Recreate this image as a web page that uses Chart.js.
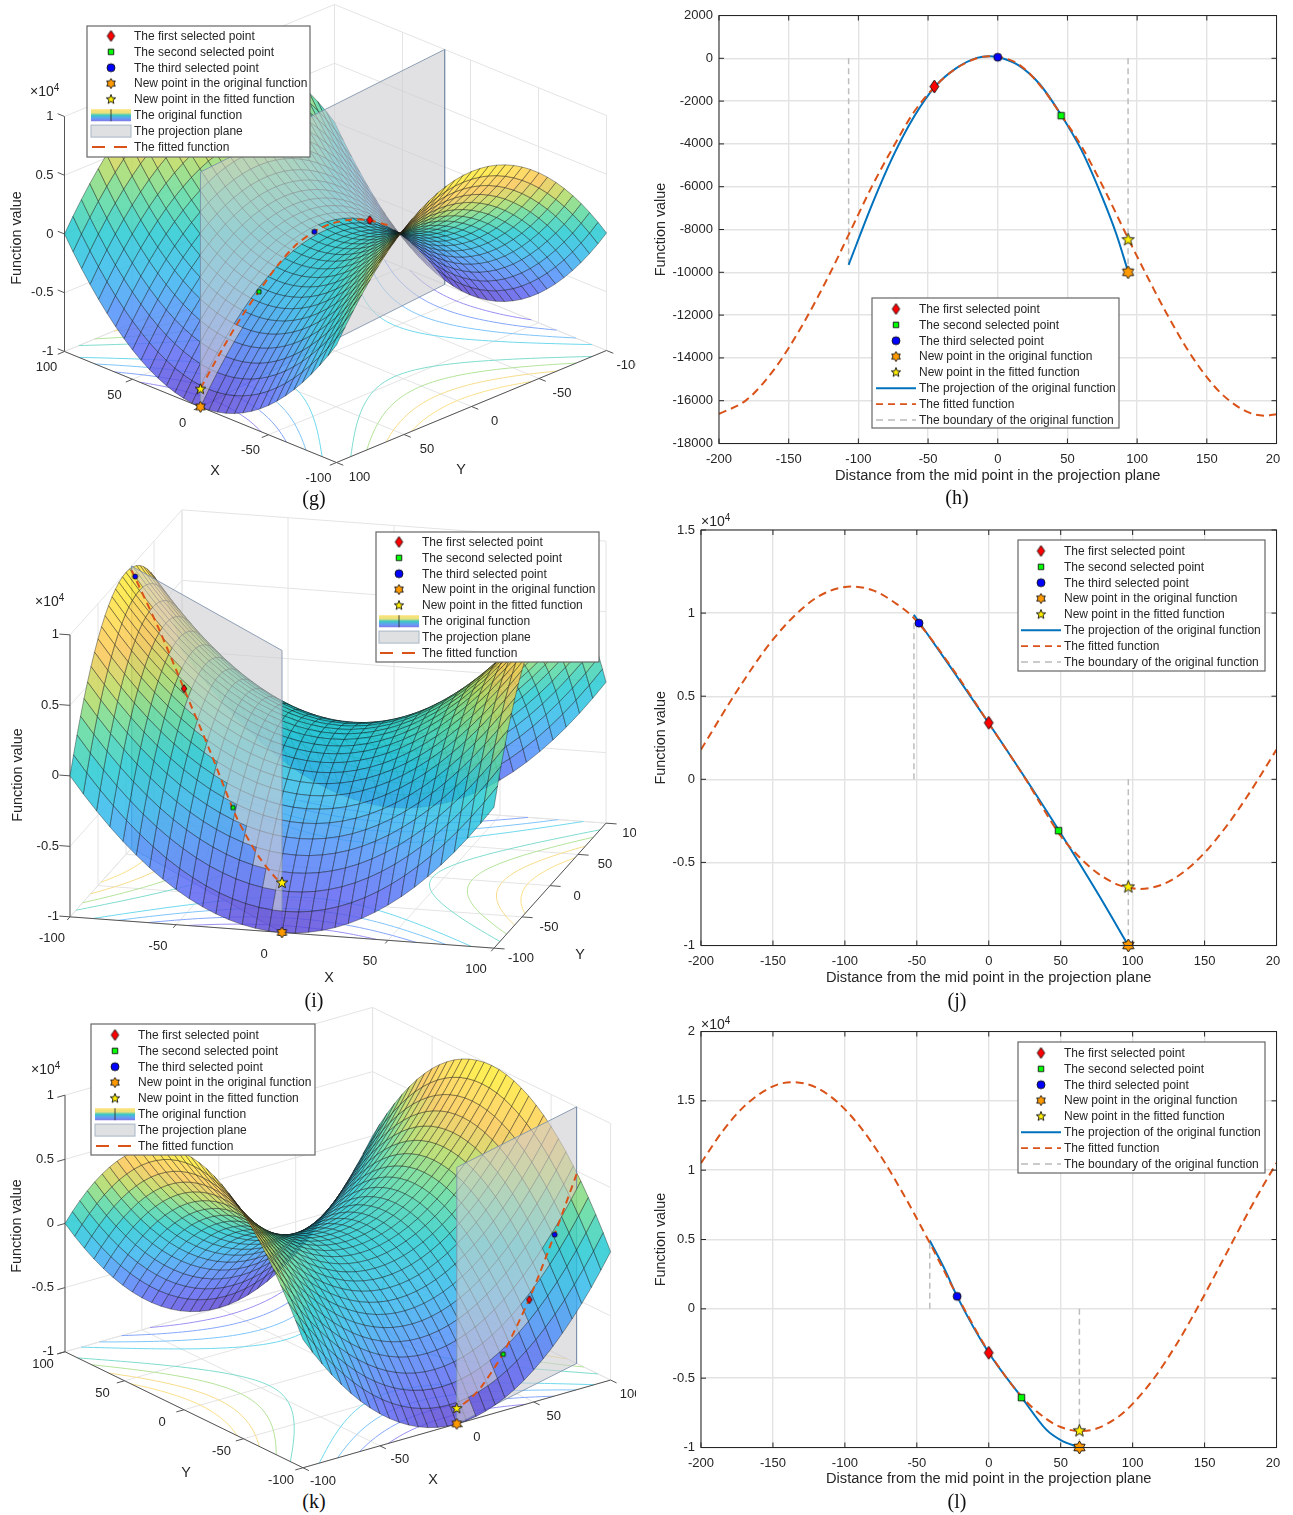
<!DOCTYPE html>
<html>
<head>
<meta charset="utf-8">
<title>Saddle function and fitted projections</title>
<script src="https://cdn.jsdelivr.net/npm/chart.js"></script>
<style>
  html, body { margin: 0; background: #fff; }
  #page { position: relative; width: 1293px; height: 1515px; overflow: hidden; }
  canvas { position: absolute; }
  .cap { position: absolute; width: 60px; text-align: center; font: 20px "Liberation Serif", serif; color: #111; }
</style>
</head>
<body>
<div id="page"></div>
<script>
// Panel (h) values
let fitXH = [-200,-180,-160,-140,-120,-107,-90,-75,-60,-45,-30,-15,-6,0,15,30,45,60,75,94,110,120,140,160,180,192,200];
let fitYH = [-16620,-15950,-14500,-12450,-10000,-8250,-5950,-4150,-2500,-1320,-480,0,100,75,-280,-1236,-2600,-4100,-5930,-8480,-10543,-11786,-13998,-15642,-16549,-16700,-16633];
let origXH = [-107,-90,-75,-60,-45,-30,-15,-6,0,15,30,45,60,75,85,93.5];
let origYH = [-9650,-6800,-4560,-2720,-1320,-470,20,100,60,-330,-1200,-2600,-4280,-6500,-8200,-9960];
let pickXH = [-45.5,45.5,0,93.5,93.5];
let pickYH = [-1320,-2680,50,-10000,-8480];
let boundXH = [-107,93.5];
let boundYH = [-9650,-10000];

// Panel (j) values
let fitXJ = [-200,-175,-150,-125,-110,-95,-80,-65,-52,-25,0,25,50,60,75,90,97,105,120,135,150,165,175,187,200];
let fitYJ = [1787,5312,8410,10608,11350,11600,11350,10608,9700,6631,3370,100,-3410,-4420,-5608,-6350,-6500,-6600,-6350,-5608,-4420,-2850,-1631,-39,1787];
let origXJ = [-52,-25,0,25,49,75,97];
let origYJ = [9900,6550,3370,120,-3110,-6750,-10000];
let pickXJ = [0,48.5,-48.5,97,97];
let pickYJ = [3400,-3090,9400,-10000,-6480];
let boundXJ = [-52,97];
let boundYJ = [9900,-10000];

// Panel (l) values
let fitXL = [-200,-185,-170,-150,-136,-120,-105,-90,-75,-60,-45,-41,-22,0,23,40,50,63,75,90,100,115,130,140,150,165,180,190,200];
let fitYL = [10510,12805,14600,16048,16350,15960,14890,13204,11000,8396,5540,4753,950,-3100,-6350,-7939,-8518,-8820,-8632,-7788,-6852,-4990,-2640,-868,1021,3963,6899,8762,10510];
let origXL = [-41,-30,-22,0,23,40,50,63];
let origYL = [4930,2720,900,-3170,-6400,-8712,-9460,-10000];
let pickXL = [0,22.7,-22,63,63];
let pickYL = [-3170,-6400,900,-10000,-8800];
let boundXL = [-41,63];
let boundYL = [4900,-10000];

let gridX = [-100,-93.75,-87.5,-81.25,-75,-68.75,-62.5,-56.25,-50,-43.75,-37.5,-31.25,-25,-18.75,-12.5,-6.25,0,6.25,12.5,18.75,25,31.25,37.5,43.75,50,56.25,62.5,68.75,75,81.25,87.5,93.75,100];
let surfaceZ = [
  [0,-39,-156,-352,-625,-977,-1406,-1914,-2500,-3164,-3906,-4727,-5625,-6602,-7656,-8789,-10000],
  [39,0,-117,-313,-586,-938,-1367,-1875,-2461,-3125,-3867,-4688,-5586,-6563,-7617,-8750,-9961],
  [156,117,0,-196,-469,-821,-1250,-1758,-2344,-3008,-3750,-4571,-5469,-6446,-7500,-8633,-9844],
  [352,313,196,0,-273,-625,-1054,-1562,-2148,-2812,-3554,-4375,-5273,-6250,-7304,-8437,-9648],
  [625,586,469,273,0,-352,-781,-1289,-1875,-2539,-3281,-4102,-5000,-5977,-7031,-8164,-9375],
  [977,938,821,625,352,0,-429,-937,-1523,-2187,-2929,-3750,-4648,-5625,-6679,-7812,-9023],
  [1406,1367,1250,1054,781,429,0,-508,-1094,-1758,-2500,-3321,-4219,-5196,-6250,-7383,-8594],
  [1914,1875,1758,1562,1289,937,508,0,-586,-1250,-1992,-2813,-3711,-4688,-5742,-6875,-8086],
  [2500,2461,2344,2148,1875,1523,1094,586,0,-664,-1406,-2227,-3125,-4102,-5156,-6289,-7500],
  [3164,3125,3008,2812,2539,2187,1758,1250,664,0,-742,-1563,-2461,-3438,-4492,-5625,-6836],
  [3906,3867,3750,3554,3281,2929,2500,1992,1406,742,0,-821,-1719,-2696,-3750,-4883,-6094],
  [4727,4688,4571,4375,4102,3750,3321,2813,2227,1563,821,0,-898,-1875,-2929,-4062,-5273],
  [5625,5586,5469,5273,5000,4648,4219,3711,3125,2461,1719,898,0,-977,-2031,-3164,-4375],
  [6602,6563,6446,6250,5977,5625,5196,4688,4102,3438,2696,1875,977,0,-1054,-2187,-3398],
  [7656,7617,7500,7304,7031,6679,6250,5742,5156,4492,3750,2929,2031,1054,0,-1133,-2344],
  [8789,8750,8633,8437,8164,7812,7383,6875,6289,5625,4883,4062,3164,2187,1133,0,-1211],
  [10000,9961,9844,9648,9375,9023,8594,8086,7500,6836,6094,5273,4375,3398,2344,1211,0]
];

// Floor contours: one branch per level, mirrored to the four sides
let contourLevels = [2000,4000,6000,8000];
let contourMajor = [
  [44.7,45.8,49,53.9,60,67.1,74.8,83.1,91.7,100],
  [63.2,64,66.3,70,74.8,80.6,87.2,94.3,100],
  [77.5,78.1,80,83.1,87.2,92.2,98,100],
  [89.4,90,91.7,94.3,98,100]
];
let contourMinor = [
  [0,10,20,30,40,50,60,70,80,89.4],
  [0,10,20,30,40,50,60,70,77.5],
  [0,10,20,30,40,50,60,63.2],
  [0,10,20,30,40,44.7]
];

let boxTicks = [-100,-50,0,50,100];
let zTicks = [-10000,-5000,0,5000,10000];
let zTickLabels = ['-1','-0.5','0','0.5','1'];

let legend2d = ['The first selected point','The second selected point','The third selected point','New point in the original function','New point in the fitted function','The projection of the original function','The fitted function','The boundary of the original function'];
let legend3d = ['The first selected point','The second selected point','The third selected point','New point in the original function','New point in the fitted function','The original function','The projection plane','The fitted function'];

// Colours
let surfaceAlpha = 0.83;
let surfaceStops = [-10000,-7500,-5000,-2500,0,2500,4500,6500,8000,10000];
let surfaceColors = [[118,96,216],[118,128,245],[106,162,250],[84,196,240],[70,210,216],[120,224,170],[196,224,118],[250,208,110],[255,220,104],[255,245,78]];
let posContourColors = ['#7fdccf','#b4e39a','#f6dd8a','#fbe08a'];
let negContourColors = ['#6fd9ec','#7fc4fa','#86a6fb','#9a90f2'];
let orange = '#D95319';
let blue = '#0072BD';
let ink = '#262626';
let sans = '"Liberation Sans", Arial, sans-serif';

// ---------- markers ----------
function starPath(c, cx, cy, spikes, outer, inner) {
  c.beginPath();
  for (let i = 0; i < spikes * 2; i++) {
    let r = i % 2 ? inner : outer;
    let a = -Math.PI / 2 + i * Math.PI / spikes;
    c.lineTo(cx + r * Math.cos(a), cy + r * Math.sin(a));
  }
  c.closePath();
}

function marker(kind, size) {
  let cv = document.createElement('canvas');
  let s = Math.ceil(size) + 4;
  cv.width = s;
  cv.height = s;
  let c = cv.getContext('2d');
  let m = s / 2;
  c.lineWidth = 0.9;
  c.strokeStyle = '#111';
  if (kind == 'diamond') {
    c.fillStyle = '#FF0000';
    c.beginPath();
    c.moveTo(m, m - size / 2);
    c.lineTo(m + size * 0.34, m);
    c.lineTo(m, m + size / 2);
    c.lineTo(m - size * 0.34, m);
    c.closePath();
  } else if (kind == 'square') {
    c.fillStyle = '#00FF00';
    c.beginPath();
    c.rect(m - size / 2, m - size / 2, size, size);
  } else if (kind == 'circle') {
    c.fillStyle = '#0000FF';
    c.beginPath();
    c.arc(m, m, size / 2, 0, Math.PI * 2);
  } else if (kind == 'hexagram') {
    c.fillStyle = '#FF9900';
    starPath(c, m, m, 6, size / 2, size * 0.3);
  } else {
    c.fillStyle = '#FFEE00';
    starPath(c, m, m, 5, size / 2, size * 0.21);
  }
  c.fill();
  c.stroke();
  return cv;
}

let markerKinds = ['diamond','square','circle','hexagram','pentagram'];

function drawLegend(ctx, lg, names, is3d) {
  ctx.save();
  ctx.fillStyle = '#fff';
  ctx.strokeStyle = '#666';
  ctx.lineWidth = 1.2;
  ctx.fillRect(lg.x, lg.y, lg.w, lg.h);
  ctx.strokeRect(lg.x, lg.y, lg.w, lg.h);
  ctx.font = '12px ' + sans;
  ctx.textBaseline = 'middle';
  ctx.textAlign = 'left';
  let icons = [marker('diamond', 11), marker('square', 5.5), marker('circle', 8), marker('hexagram', 10), marker('pentagram', 10)];
  let ix = lg.x + lg.icon;
  let sx0 = lg.x + lg.icon - 20;
  let sx1 = lg.x + lg.icon + 20;
  names.forEach(function(name, i) {
    let ry = lg.y + lg.first + i * 15.85;
    if (i < 5) {
      ctx.drawImage(icons[i], ix - icons[i].width / 2, ry - icons[i].height / 2);
    } else if (!is3d) {
      ctx.lineWidth = i == 5 ? 2 : 1.6;
      ctx.strokeStyle = i == 5 ? blue : i == 6 ? orange : '#bbb';
      ctx.setLineDash(i == 5 ? [] : [7, 5]);
      ctx.beginPath();
      ctx.moveTo(sx0, ry);
      ctx.lineTo(sx1, ry);
      ctx.stroke();
      ctx.setLineDash([]);
    } else if (i == 5) {
      let g = ctx.createLinearGradient(0, ry - 6, 0, ry + 6);
      g.addColorStop(0, '#fde27a');
      g.addColorStop(0.3, '#e9e27c');
      g.addColorStop(0.5, '#3cc9c0');
      g.addColorStop(0.75, '#62a0f5');
      g.addColorStop(1, '#7f78e6');
      ctx.fillStyle = g;
      ctx.fillRect(sx0, ry - 6, sx1 - sx0, 12);
      ctx.strokeStyle = '#222';
      ctx.lineWidth = 0.8;
      ctx.beginPath();
      ctx.moveTo(ix, ry - 6);
      ctx.lineTo(ix, ry + 6);
      ctx.stroke();
    } else if (i == 6) {
      ctx.fillStyle = '#dfe0e1';
      ctx.strokeStyle = '#a9b6c6';
      ctx.lineWidth = 1;
      ctx.fillRect(sx0, ry - 6, sx1 - sx0, 12);
      ctx.strokeRect(sx0, ry - 6, sx1 - sx0, 12);
    } else {
      ctx.lineWidth = 2;
      ctx.strokeStyle = orange;
      ctx.setLineDash([13, 9]);
      ctx.beginPath();
      ctx.moveTo(sx0 + 1, ry);
      ctx.lineTo(sx1, ry);
      ctx.stroke();
      ctx.setLineDash([]);
    }
    ctx.fillStyle = ink;
    ctx.font = '12px ' + sans;
    ctx.fillText(name, lg.x + lg.text, ry + 0.5);
  });
  ctx.restore();
}

function drawExponent(ctx, x, y) {
  ctx.save();
  ctx.fillStyle = ink;
  ctx.textAlign = 'left';
  ctx.textBaseline = 'alphabetic';
  ctx.font = '14px ' + sans;
  ctx.fillText('\u00d710', x, y);
  let w = ctx.measureText('\u00d710').width;
  ctx.font = '10px ' + sans;
  ctx.fillText('4', x + w, y - 5);
  ctx.restore();
}

function addCanvas(left, top, width, height) {
  let cv = document.createElement('canvas');
  cv.width = width;
  cv.height = height;
  cv.style.left = left + 'px';
  cv.style.top = top + 'px';
  document.getElementById('page').appendChild(cv);
  return cv;
}

function addCaption(text, cx, y) {
  let d = document.createElement('div');
  d.className = 'cap';
  d.textContent = text;
  d.style.left = (cx - 30) + 'px';
  d.style.top = y + 'px';
  document.getElementById('page').appendChild(d);
}

// ---------- 2D panels ----------
function make2d(cfg) {
  let H = cfg.top + cfg.height;
  let cv = addCanvas(640, cfg.top, 640, cfg.height);
  let toPts = (xs, ys) => xs.map((x, i) => ({ x: x, y: ys[i] }));
  let datasets = [];
  cfg.pickX.forEach(function(x, i) {
    datasets.push({
      label: legend2d[i],
      data: [{ x: x, y: cfg.pickY[i] }],
      pointStyle: marker(markerKinds[i], [13, 6.5, 8, 13, 13][i]),
      pointRadius: 6,
      showLine: false,
      clip: false
    });
  });
  datasets.push({
    label: legend2d[6],
    data: toPts(cfg.fitX, cfg.fitY),
    showLine: true,
    borderColor: orange,
    borderWidth: 2,
    borderDash: [8, 5],
    pointRadius: 0,
    cubicInterpolationMode: 'monotone'
  });
  datasets.push({
    label: legend2d[5],
    data: toPts(cfg.origX, cfg.origY),
    showLine: true,
    borderColor: blue,
    borderWidth: 2,
    pointRadius: 0,
    cubicInterpolationMode: 'monotone'
  });
  cfg.boundX.forEach(function(x, i) {
    datasets.push({
      label: legend2d[7],
      data: [{ x: x, y: 0 }, { x: x, y: cfg.boundY[i] }],
      showLine: true,
      borderColor: '#bdbdbd',
      borderWidth: 1.5,
      borderDash: [6, 4],
      pointRadius: 0
    });
  });

  let frame = {
    id: 'frame',
    afterDatasetsDraw: function(chart) {
      let ctx = chart.ctx;
      let a = chart.chartArea;
      ctx.save();
      ctx.strokeStyle = ink;
      ctx.lineWidth = 1;
      ctx.strokeRect(a.left, a.top, a.right - a.left, a.bottom - a.top);
      ctx.beginPath();
      chart.scales.x.ticks.forEach(function(t) {
        let p = chart.scales.x.getPixelForValue(t.value);
        ctx.moveTo(p, a.bottom);
        ctx.lineTo(p, a.bottom - 5);
        ctx.moveTo(p, a.top);
        ctx.lineTo(p, a.top + 5);
      });
      chart.scales.y.ticks.forEach(function(t) {
        let p = chart.scales.y.getPixelForValue(t.value);
        ctx.moveTo(a.left, p);
        ctx.lineTo(a.left + 5, p);
        ctx.moveTo(a.right, p);
        ctx.lineTo(a.right - 5, p);
      });
      ctx.stroke();
      ctx.restore();
    },
    afterDraw: function(chart) {
      let ctx = chart.ctx;
      ctx.save();
      ctx.translate(-640, -cfg.top);
      drawLegend(ctx, cfg.legend, legend2d, false);
      if (cfg.exponent) drawExponent(ctx, cfg.exponent[0], cfg.exponent[1]);
      ctx.restore();
    }
  };

  new Chart(cv, {
    type: 'scatter',
    data: { datasets: datasets },
    plugins: [frame],
    options: {
      responsive: false,
      animation: false,
      events: [],
      layout: { autoPadding: false, padding: { left: 0, bottom: 0, top: cfg.boxTop - cfg.top, right: 640 - (cfg.boxRight - 640) } },
      plugins: { legend: { display: false }, tooltip: { enabled: false } },
      scales: {
        x: {
          type: 'linear',
          min: -200,
          max: 200,
          afterFit: function(s) {
            s.height = H - cfg.boxBottom;
            s.paddingLeft = 0;
            s.paddingRight = 0;
          },
          grid: { color: '#e3e3e3', lineWidth: 1.4, drawTicks: false },
          border: { display: false },
          ticks: { stepSize: 50, maxRotation: 0, autoSkip: false, padding: 8, color: ink, font: { family: sans, size: 13 } },
          title: { display: true, text: 'Distance from the mid point in the projection plane', color: ink, font: { family: sans, size: 14.65 }, padding: { top: 0, bottom: H - cfg.titleY - 8 } }
        },
        y: {
          type: 'linear',
          min: cfg.yMin,
          max: cfg.yMax,
          afterFit: function(s) {
            s.width = cfg.boxLeft - 640;
            s.paddingTop = 0;
            s.paddingBottom = 0;
          },
          grid: { color: '#e3e3e3', lineWidth: 1.4, drawTicks: false },
          border: { display: false },
          ticks: {
            stepSize: cfg.yStep,
            autoSkip: false,
            padding: 6,
            color: ink,
            font: { family: sans, size: 13 },
            callback: function(v) { return cfg.exponent ? String(v / 10000) : String(v); }
          },
          title: { display: true, text: 'Function value', color: ink, font: { family: sans, size: 14.4 }, padding: { top: 12, bottom: 0 } }
        }
      }
    }
  });
}

// ---------- 3D panels ----------
function surfaceAt(i, j) {
  return surfaceZ[Math.abs(i - 16)][Math.abs(j - 16)];
}

function surfaceColor(z) {
  let k = 0;
  while (k < surfaceStops.length - 2 && z > surfaceStops[k + 1]) k++;
  let t = (z - surfaceStops[k]) / (surfaceStops[k + 1] - surfaceStops[k]);
  // the stops are the colours seen on white, so take the white back out
  let c = surfaceColors[k].map(function(v, n) {
    let seen = v + t * (surfaceColors[k + 1][n] - v);
    return Math.max(0, Math.round((seen - 255 * (1 - surfaceAlpha)) / surfaceAlpha));
  });
  return 'rgba(' + c[0] + ',' + c[1] + ',' + c[2] + ',' + surfaceAlpha + ')';
}

function make3d(cfg) {
  let v = cfg.view;
  let project = function(X, Y, Z) {
    return {
      x: v.u0 + v.ux * X + v.uy * Y,
      y: v.v0 + v.vx * X + v.vy * Y + v.vz * Z / 10000
    };
  };
  // direction the camera looks from, in box units
  let a1 = [v.ux * 100, v.uy * 100, 0];
  let a2 = [v.vx * 100, v.vy * 100, v.vz];
  let n = [a1[1] * a2[2], -a1[0] * a2[2], a1[0] * a2[1] - a1[1] * a2[0]];
  if (n[2] < 0) n = n.map(c => -c);
  let depth = (X, Y, Z) => n[0] * X / 100 + n[1] * Y / 100 + n[2] * Z / 10000;

  let line = function(points, color, width, extra) {
    return Object.assign({ data: points, showLine: true, borderColor: color, borderWidth: width, pointRadius: 0, clip: false, fill: false }, extra || {});
  };
  let seq = [];

  // box walls and floor grid
  let wall = '#e4e4e4';
  boxTicks.forEach(function(t) {
    seq.push(line([project(t, -100, -10000), project(t, 100, -10000)], wall, 1));
    seq.push(line([project(-100, t, -10000), project(100, t, -10000)], wall, 1));
    seq.push(line([project(t, v.backY, -10000), project(t, v.backY, 10000)], wall, 1));
    seq.push(line([project(v.backX, t, -10000), project(v.backX, t, 10000)], wall, 1));
  });
  zTicks.forEach(function(z) {
    seq.push(line([project(-100, v.backY, z), project(100, v.backY, z)], wall, 1));
    seq.push(line([project(v.backX, -100, z), project(v.backX, 100, z)], wall, 1));
  });

  // floor contours
  contourLevels.forEach(function(level, l) {
    [1, -1].forEach(function(s) {
      [0, 1].forEach(function(neg) {
        let maj = contourMajor[l];
        let min = contourMinor[l];
        let pts = [];
        for (let i = maj.length - 1; i > 0; i--) pts.push(neg ? project(-min[i], s * maj[i], -10000) : project(s * maj[i], -min[i], -10000));
        for (let i = 0; i < maj.length; i++) pts.push(neg ? project(min[i], s * maj[i], -10000) : project(s * maj[i], min[i], -10000));
        seq.push(line(pts, neg ? negContourColors[l] : posContourColors[l], 1, { tension: 0.3, label: (neg ? -level : level) + ' contour' }));
      });
    });
  });

  // axes
  let axis = '#555';
  let xe = v.xAxisY;
  let ye = v.yAxisX;
  seq.push(line([project(-100, xe, -10000), project(100, xe, -10000)], axis, 1));
  seq.push(line([project(ye, -100, -10000), project(ye, 100, -10000)], axis, 1));
  seq.push(line([project(v.cornerX, v.cornerY, -10000), project(v.cornerX, v.cornerY, 10000)], axis, 1));
  boxTicks.forEach(function(t) {
    seq.push(line([project(t, xe, -10000), project(t, xe * 1.05, -10000)], axis, 1));
    seq.push(line([project(ye, t, -10000), project(ye * 1.05, t, -10000)], axis, 1));
  });
  zTicks.forEach(function(z) {
    seq.push(line([project(v.cornerX, v.cornerY, z), project(v.cornerX * 1.05, v.cornerY, z)], axis, 1));
  });

  // surface cells, far to near, split by the projection plane
  let p0 = cfg.plane[0];
  let p1 = cfg.plane[1];
  let side = (X, Y) => (p1[0] - p0[0]) * (Y - p0[1]) - (p1[1] - p0[1]) * (X - p0[0]);
  let camSide = Math.sign((p1[0] - p0[0]) * n[1] - (p1[1] - p0[1]) * n[0]);
  let cells = [];
  for (let i = 0; i < gridX.length - 1; i++) {
    for (let j = 0; j < gridX.length - 1; j++) {
      let zs = [surfaceAt(i, j), surfaceAt(i + 1, j), surfaceAt(i + 1, j + 1), surfaceAt(i, j + 1)];
      let mz = (zs[0] + zs[1] + zs[2] + zs[3]) / 4;
      let mx = (gridX[i] + gridX[i + 1]) / 2;
      let my = (gridX[j] + gridX[j + 1]) / 2;
      cells.push({
        d: depth(mx, my, mz),
        front: Math.sign(side(mx, my)) == camSide,
        color: surfaceColor(mz),
        pts: [project(gridX[i], gridX[j], zs[0]), project(gridX[i + 1], gridX[j], zs[1]), project(gridX[i + 1], gridX[j + 1], zs[2]), project(gridX[i], gridX[j + 1], zs[3]), project(gridX[i], gridX[j], zs[0])]
      });
    }
  }
  cells.sort((a, b) => a.d - b.d);
  let cellSet = c => line(c.pts, 'rgba(15,15,15,0.55)', 0.7, { fill: 'shape', backgroundColor: c.color, tension: 0 });
  cells.filter(c => !c.front).forEach(c => seq.push(cellSet(c)));

  seq.push(line([
    project(p0[0], p0[1], -10000), project(p0[0], p0[1], 10000),
    project(p1[0], p1[1], 10000), project(p1[0], p1[1], -10000),
    project(p0[0], p0[1], -10000)
  ], 'rgba(125,145,170,0.85)', 1, { fill: 'shape', backgroundColor: 'rgba(205,205,208,0.6)', label: legend3d[6] }));

  cells.filter(c => c.front).forEach(c => seq.push(cellSet(c)));

  // positions along the plane come from the distance read in the 2D panel
  let onPlane = function(d, z) {
    let t = (cfg.dStart - d) / (cfg.dStart - cfg.dEnd);
    return project(p0[0] + t * (p1[0] - p0[0]), p0[1] + t * (p1[1] - p0[1]), z);
  };
  let fitPts = [];
  cfg.fitX.forEach(function(d, i) {
    if (d >= cfg.fitFrom && d <= cfg.dStart + 1) fitPts.push(onPlane(d, cfg.fitY[i]));
  });
  seq.push(line(fitPts, orange, 2, { borderDash: [7, 5], tension: 0.3, label: legend3d[7] }));
  let sizes = cfg.sizes;
  cfg.pickX.forEach(function(d, i) {
    let pp = onPlane(d, cfg.pickY[i]);
    seq.push({ label: legend3d[i], data: [pp], showLine: false, pointRadius: 5, clip: false, pointStyle: marker(markerKinds[i], sizes[i]) });
  });

  let labels = {
    id: 'labels',
    afterDraw: function(chart) {
      let ctx = chart.ctx;
      ctx.save();
      ctx.translate(0, -cfg.top);
      ctx.fillStyle = ink;
      ctx.font = '13px ' + sans;
      ctx.textBaseline = 'middle';
      ctx.textAlign = 'center';
      boxTicks.forEach(function(t) {
        let a = project(t, xe, -10000);
        ctx.fillText(String(t), a.x + v.xOff[0], a.y + v.xOff[1]);
        let b = project(ye, t, -10000);
        ctx.fillText(String(t), b.x + v.yOff[0], b.y + v.yOff[1]);
      });
      ctx.textAlign = 'right';
      zTicks.forEach(function(z, i) {
        let a = project(v.cornerX, v.cornerY, z);
        ctx.fillText(zTickLabels[i], a.x - 11, a.y);
      });
      ctx.textAlign = 'center';
      ctx.font = '14.4px ' + sans;
      ctx.fillText('X', v.xTitle[0], v.xTitle[1]);
      ctx.fillText('Y', v.yTitle[0], v.yTitle[1]);
      ctx.save();
      ctx.translate(v.zTitle[0], v.zTitle[1]);
      ctx.rotate(-Math.PI / 2);
      ctx.fillText('Function value', 0, 0);
      ctx.restore();
      drawExponent(ctx, v.exponent[0], v.exponent[1]);
      drawLegend(ctx, cfg.legend, legend3d, true);
      ctx.restore();
    }
  };

  let cv = addCanvas(0, cfg.top, 636, cfg.height);
  new Chart(cv, {
    type: 'scatter',
    data: { datasets: seq.reverse() }, // first dataset is painted last
    plugins: [labels],
    options: {
      responsive: false,
      animation: false,
      events: [],
      layout: { autoPadding: false, padding: 0 },
      plugins: { legend: { display: false }, tooltip: { enabled: false }, filler: { drawTime: 'beforeDatasetDraw', propagate: false } },
      scales: {
        x: { type: 'linear', display: false, min: 0, max: 636 },
        y: { type: 'linear', display: false, min: cfg.top, max: cfg.top + cfg.height, reverse: true }
      }
    }
  });
}

make3d({
  top: 0, height: 489,
  view: {
    u0: 335.5, ux: -1.36, uy: -1.35, v0: 233.5, vx: -0.555, vy: 0.56, vz: -117.5,
    backX: 100, backY: -100, xAxisY: 100, yAxisX: -100, cornerX: 100, cornerY: 100,
    xOff: [-18, 16], yOff: [23, 15], xTitle: [215, 471], yTitle: [461, 470], zTitle: [17, 238], exponent: [30, 96]
  },
  plane: [[0, 100], [19, -100]], dStart: 93.5, dEnd: -107, fitFrom: -62,
  fitX: fitXH, fitY: fitYH, pickX: pickXH, pickY: pickYH, sizes: [9, 4, 5, 11, 11],
  legend: { x: 87, y: 26, w: 223, h: 131, icon: 24, text: 47, first: 10 }
});

make3d({
  top: 505, height: 480,
  view: {
    u0: 338, ux: 2.12, uy: 0.56, v0: 729, vx: 0.1565, vy: -0.625, vz: -141,
    backX: -100, backY: 100, xAxisY: -100, yAxisX: 100, cornerX: -100, cornerY: -100,
    xOff: [-18, 21.5], yOff: [27, 10.5], xTitle: [329, 978], yTitle: [580, 955], zTitle: [18, 775], exponent: [35, 606]
  },
  plane: [[0, -100], [-100, 10]], dStart: 97, dEnd: -52, fitFrom: -52,
  fitX: fitXJ, fitY: fitYJ, pickX: pickXJ, pickY: pickYJ, sizes: [8, 4, 5, 11, 12],
  legend: { x: 376, y: 532, w: 223, h: 130, icon: 23, text: 46, first: 10 }
});

make3d({
  top: 1005, height: 485,
  view: {
    u0: 337.8, ux: 1.538, uy: -1.19, v0: 1237.6, vx: -0.4385, vy: -0.58, vz: -128.3,
    backX: 100, backY: 100, xAxisY: -100, yAxisX: -100, cornerX: -100, cornerY: 100,
    xOff: [20, 14], yOff: [-22, 12.7], xTitle: [433, 1480], yTitle: [186, 1473], zTitle: [17, 1226], exponent: [31, 1074]
  },
  plane: [[0, -100], [100, -71.4]], dStart: 63, dEnd: -41, fitFrom: -41,
  fitX: fitXL, fitY: fitYL, pickX: pickXL, pickY: pickYL, sizes: [8, 4, 5, 11, 11],
  legend: { x: 91, y: 1024, w: 224, h: 131, icon: 24, text: 47, first: 11 }
});

make2d({
  top: 0, height: 490, boxLeft: 719, boxRight: 1276.5, boxTop: 15.5, boxBottom: 443.5, titleY: 477,
  yMin: -18000, yMax: 2000, yStep: 2000,
  fitX: fitXH, fitY: fitYH, origX: origXH, origY: origYH, pickX: pickXH, pickY: pickYH, boundX: boundXH, boundY: boundYH,
  legend: { x: 872, y: 298, w: 247, h: 130, icon: 24, text: 47, first: 11 }
});

make2d({
  top: 510, height: 486, boxLeft: 701, boxRight: 1276.5, boxTop: 530, boxBottom: 945.5, titleY: 979,
  yMin: -10000, yMax: 15000, yStep: 5000, exponent: [701, 526],
  fitX: fitXJ, fitY: fitYJ, origX: origXJ, origY: origYJ, pickX: pickXJ, pickY: pickYJ, boundX: boundXJ, boundY: boundYJ,
  legend: { x: 1018, y: 540, w: 247, h: 131, icon: 23, text: 46, first: 11 }
});

make2d({
  top: 1012, height: 486, boxLeft: 701, boxRight: 1276.5, boxTop: 1031.5, boxBottom: 1447.5, titleY: 1480,
  yMin: -10000, yMax: 20000, yStep: 5000, exponent: [701, 1029],
  fitX: fitXL, fitY: fitYL, origX: origXL, origY: origYL, pickX: pickXL, pickY: pickYL, boundX: boundXL, boundY: boundYL,
  legend: { x: 1018, y: 1042, w: 247, h: 131, icon: 23, text: 46, first: 11 }
});

addCaption('(g)', 314, 487);
addCaption('(h)', 957, 486);
addCaption('(i)', 314, 989);
addCaption('(j)', 957, 989);
addCaption('(k)', 314, 1490);
addCaption('(l)', 957, 1490);
</script>
</body>
</html>
